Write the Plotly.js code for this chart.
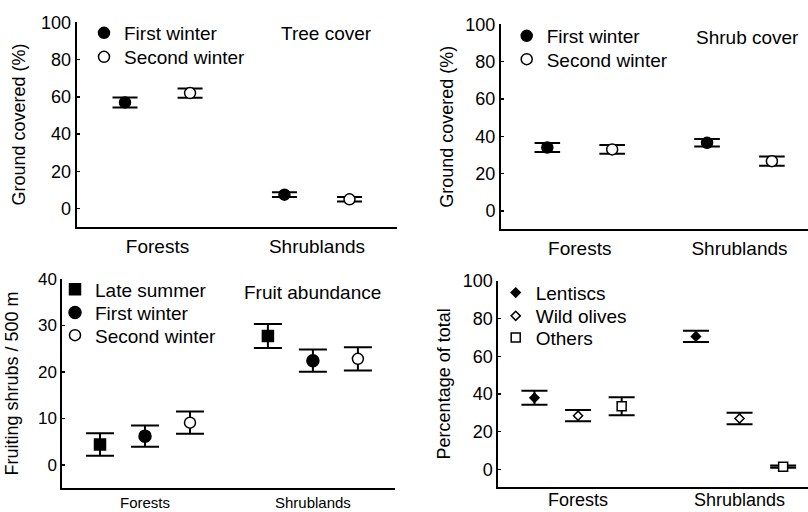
<!DOCTYPE html>
<html>
<head>
<meta charset="utf-8">
<script src="https://cdn.plot.ly/plotly-3.0.1.min.js"></script>
<style>html,body{margin:0;padding:0;background:#fff;}#chart{width:808px;height:512px;}</style>
</head>
<body>
<div id="chart"></div>
<script>
// ---- data ----
var categories = ['Forests', 'Shrublands'];

var treeFirst = [57, 7.5];
var treeFirstErr = [2.7, 1.3];
var treeSecond = [62, 5];
var treeSecondErr = [2.5, 1.2];

var shrubFirst = [34, 36.5];
var shrubFirstErr = [2.4, 2.0];
var shrubSecond = [33, 26.7];
var shrubSecondErr = [2.3, 2.5];

var fruitLate = [4.4, 27.7];
var fruitLateErr = [2.4, 2.6];
var fruitFirst = [6.2, 22.4];
var fruitFirstErr = [2.3, 2.4];
var fruitSecond = [9.1, 22.8];
var fruitSecondErr = [2.4, 2.5];

var lentiscs = [38, 70.6];
var lentiscsErr = [3.7, 3.0];
var wildOlives = [28.5, 27];
var wildOlivesErr = [3.0, 3.0];
var others = [33.5, 1.4];
var othersErr = [4.8, 0.6];

// ---- helpers ----
var W = 808, H = 512;
var FONT = 'Liberation Sans, Arial, sans-serif';
function dx(a, b) { return [a / W, b / W]; }
function dy(top, bottom) { return [1 - bottom / H, 1 - top / H]; }
function pos(offset) { return categories.map(function (c, i) { return i + offset; }); }

function series(name, vals, errs, offset, sym, fill, size, xa, ya, leg, capw) {
  return {
    type: 'scatter', mode: 'markers', name: name,
    x: pos(offset), y: vals,
    xaxis: xa, yaxis: ya, legend: leg,
    marker: { symbol: sym, size: size, color: fill, line: { color: '#000', width: 1.5 } },
    error_y: { type: 'data', array: errs, visible: true, color: '#000', thickness: 2, width: capw },
    cliponaxis: false
  };
}

var traces = [
  series('First winter', treeFirst, treeFirstErr, -0.204, 'circle', '#000', 11, 'x', 'y', 'legend', 12.5),
  series('Second winter', treeSecond, treeSecondErr, 0.204, 'circle', '#fff', 11, 'x', 'y', 'legend2', 12.5),

  series('First winter', shrubFirst, shrubFirstErr, -0.203, 'circle', '#000', 11, 'x2', 'y2', 'legend3', 12.8),
  series('Second winter', shrubSecond, shrubSecondErr, 0.203, 'circle', '#fff', 11, 'x2', 'y2', 'legend4', 12.8),

  series('Late summer', fruitLate, fruitLateErr, -0.268, 'square', '#000', 11, 'x3', 'y3', 'legend5', 14),
  series('First winter', fruitFirst, fruitFirstErr, 0, 'circle', '#000', 12, 'x3', 'y3', 'legend6', 14),
  series('Second winter', fruitSecond, fruitSecondErr, 0.268, 'circle', '#fff', 11, 'x3', 'y3', 'legend7', 14),

  series('Lentiscs', lentiscs, lentiscsErr, -0.27, 'diamond', '#000', 7, 'x4', 'y4', 'legend8', 13),
  series('Wild olives', wildOlives, wildOlivesErr, 0, 'diamond', '#fff', 7, 'x4', 'y4', 'legend9', 13),
  series('Others', others, othersErr, 0.27, 'square', '#fff', 9, 'x4', 'y4', 'legend10', 13)
];

function xAxis(domain, range, anchor, fsize, standoff) {
  return {
    domain: domain, range: range, anchor: anchor,
    tickmode: 'array', tickvals: categories.map(function (c, i) { return i; }), ticktext: categories,
    ticks: '', showline: true, linewidth: 2, linecolor: '#000',
    showgrid: false, zeroline: false, fixedrange: true,
    tickfont: { family: FONT, size: fsize, color: '#000' },
    ticklabelstandoff: standoff
  };
}
function yAxis(domain, range, anchor, dtick, title, fsize, standoff) {
  return {
    domain: domain, range: range, anchor: anchor,
    tick0: 0, dtick: dtick,
    ticks: 'inside', ticklen: 3, tickwidth: 1.5, tickcolor: '#000',
    showline: true, linewidth: 2, linecolor: '#000',
    showgrid: false, zeroline: false, fixedrange: true,
    tickfont: { family: FONT, size: fsize, color: '#000' },
    title: { text: title, font: { family: FONT, size: 18, color: '#000' }, standoff: standoff }
  };
}

// one legend per row so the row spacing matches the reference
function legendRow(markerX, rowY) {
  return {
    x: (markerX - 20) / W, y: 1 - rowY / H, xanchor: 'left', yanchor: 'middle',
    bgcolor: 'rgba(0,0,0,0)', borderwidth: 0,
    font: { family: FONT, size: 19, color: '#000' },
    tracegroupgap: 0, itemclick: false, itemdoubleclick: false
  };
}

var layout = {
  width: W, height: H,
  margin: { l: 0, r: 0, t: 0, b: 0, pad: 0 },
  paper_bgcolor: '#fff', plot_bgcolor: '#fff',
  font: { family: FONT, size: 18, color: '#000' },
  showlegend: true,

  xaxis: xAxis(dx(76.7, 396.7), [-0.507, 1.5], 'y', 19, 1),
  yaxis: yAxis(dy(22.3, 226.7), [-9.7, 100], 'x', 20, 'Ground covered (%)', 18, 11),

  xaxis2: xAxis(dx(501, 808), [-0.493, 1.429], 'y2', 19, 1),
  yaxis2: yAxis(dy(24.3, 229.3), [-9.8, 100], 'x2', 20, 'Ground covered (%)', 18, 7),

  xaxis3: xAxis(dx(62.3, 395), [-0.4926, 1.489], 'y3', 15, 0),
  yaxis3: yAxis(dy(278.7, 488.3), [-5, 40], 'x3', 10, 'Fruiting shrubs / 500 m', 17, 15),

  xaxis4: xAxis(dx(498.3, 808), [-0.494, 1.424], 'y4', 18, -4),
  yaxis4: yAxis(dy(281, 486.7), [-9.2, 100], 'x4', 20, 'Percentage of total', 18, 7),

  legend: legendRow(104, 33),
  legend2: legendRow(104, 57),
  legend3: legendRow(526.7, 36),
  legend4: legendRow(526.7, 59.3),
  legend5: legendRow(75, 289.3),
  legend6: legendRow(75, 312.7),
  legend7: legendRow(75, 335.3),
  legend8: legendRow(515.7, 292.7),
  legend9: legendRow(515.7, 316),
  legend10: legendRow(515.7, 337.7),

  annotations: [
    { text: 'Tree cover', xref: 'paper', yref: 'paper', x: 279 / W, y: 1 - 33 / H, xanchor: 'left', yanchor: 'middle', showarrow: false, font: { family: FONT, size: 19, color: '#000' } },
    { text: 'Shrub cover', xref: 'paper', yref: 'paper', x: 694 / W, y: 1 - 37 / H, xanchor: 'left', yanchor: 'middle', showarrow: false, font: { family: FONT, size: 19, color: '#000' } },
    { text: 'Fruit abundance', xref: 'paper', yref: 'paper', x: 242 / W, y: 1 - 292 / H, xanchor: 'left', yanchor: 'middle', showarrow: false, font: { family: FONT, size: 19, color: '#000' } }
  ]
};

Plotly.newPlot('chart', traces, layout, { staticPlot: true, displayModeBar: false });
</script>
</body>
</html>
